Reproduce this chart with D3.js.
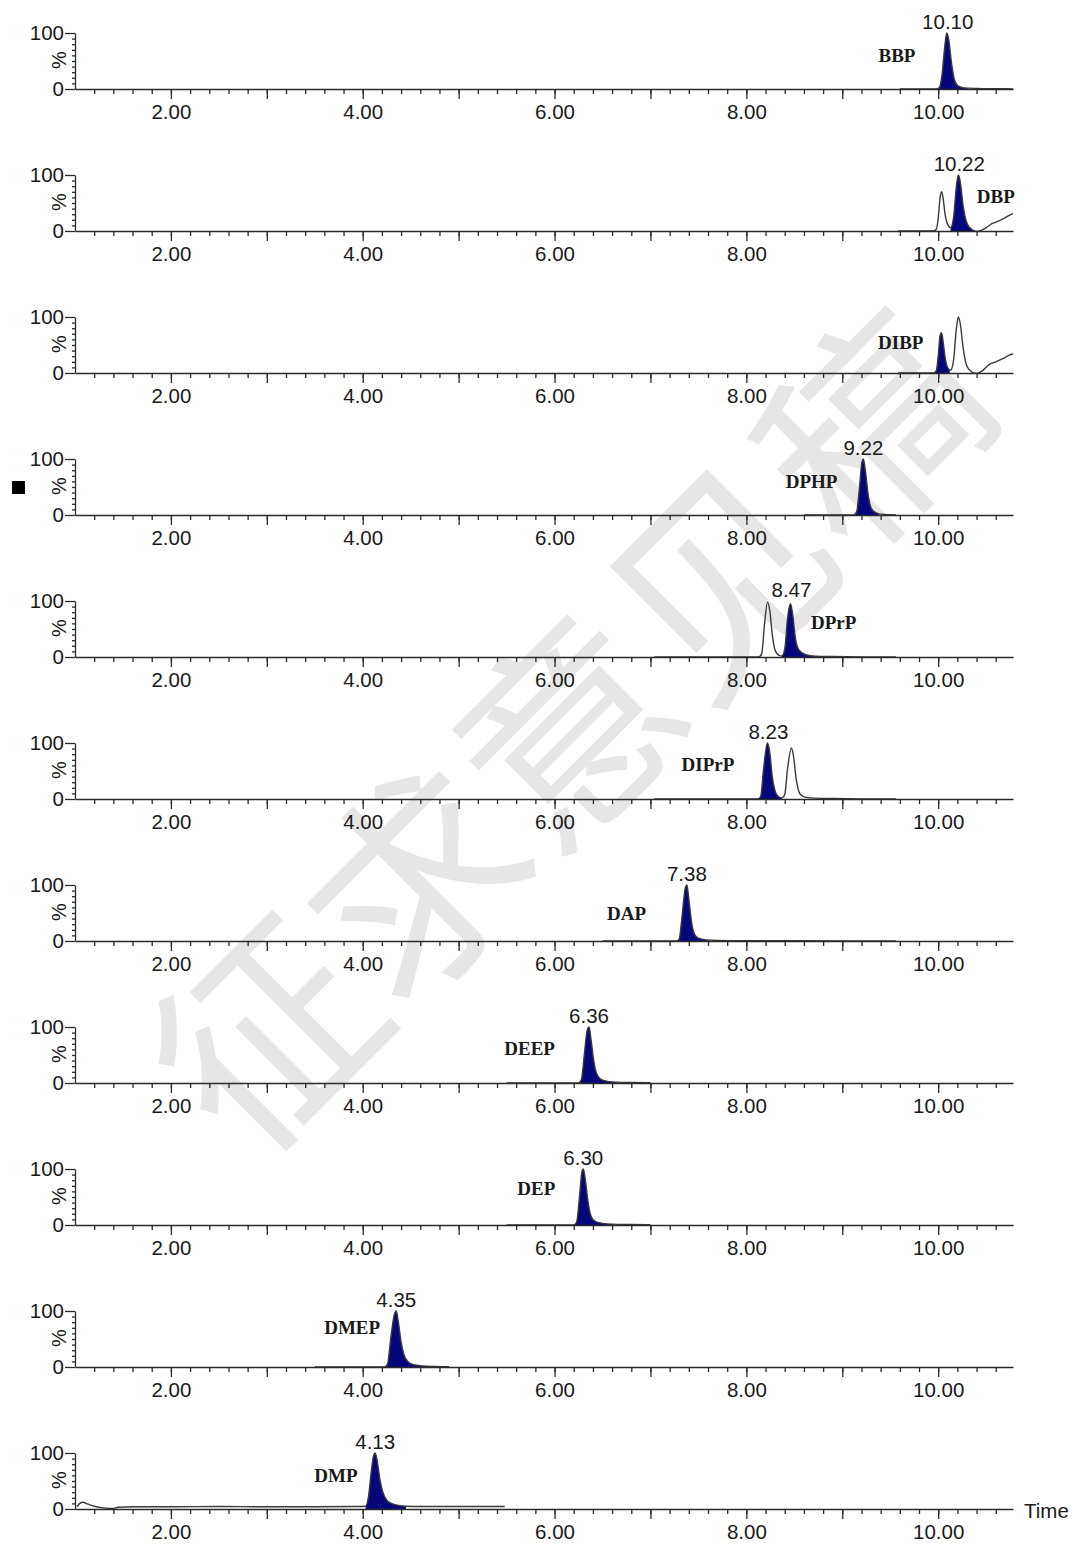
<!DOCTYPE html>
<html>
<head>
<meta charset="utf-8">
<script src="https://cdn.jsdelivr.net/npm/d3@7"></script>
<style>
  body { margin: 0; background: #fff; }
  svg { display: block; }
</style>
</head>
<body>
<script>
'use strict';

// compound name shown in each panel, top to bottom
const compounds = ["BBP", "DBP", "DIBP", "DPHP", "DPrP", "DIPrP", "DAP", "DEEP", "DEP", "DMEP", "DMP"];

// retention time printed above the filled peak ("" = none printed)
const peakLabels = ["10.10", "10.22", "", "9.22", "8.47", "8.23", "7.38", "6.36", "6.30", "4.35", "4.13"];

// where the label sits, [time, %]
const namePos = [[9.57, 59], [10.60, 62], [9.61, 54], [8.68, 59], [8.91, 61], [7.60, 62],
                 [6.75, 50], [5.74, 62], [5.81, 66], [3.89, 71], [3.72, 59]];

// time window of the filled (navy) peak
const fillRanges = [[10.00, 10.32], [10.13, 10.36], [9.96, 10.12], [9.14, 9.38], [8.37, 8.78], [8.13, 8.37],
                    [7.28, 7.62], [6.27, 6.66], [6.21, 6.62], [4.25, 4.76], [4.03, 4.45]];

// chromatogram traces [time (min), relative intensity %]
const traceBBP = [[9.60, 0], [9.98, 0], [10.01, 2], [10.04, 25], [10.07, 78], [10.09, 100], [10.11, 88],
  [10.14, 45], [10.17, 16], [10.21, 5], [10.27, 2], [10.40, 1], [10.60, 0.5], [10.78, 0.3]];
const traceDBP = [[9.58, 0], [9.95, 0], [9.98, 3], [10.00, 22], [10.02, 60], [10.035, 70], [10.05, 60],
  [10.07, 32], [10.10, 11], [10.13, 6], [10.16, 24], [10.19, 80], [10.21, 100], [10.23, 88], [10.26, 45],
  [10.30, 14], [10.35, 3], [10.40, -1], [10.45, 1], [10.50, 6], [10.56, 13], [10.62, 17], [10.68, 22],
  [10.74, 28], [10.78, 31]];
const traceDIBP = [[9.58, 0], [9.95, 0], [9.98, 4], [10.00, 30], [10.02, 67], [10.035, 72], [10.05, 58],
  [10.07, 30], [10.10, 9], [10.13, 5], [10.16, 22], [10.19, 80], [10.21, 100], [10.23, 88], [10.26, 45],
  [10.30, 12], [10.35, 2], [10.40, -1], [10.46, 4], [10.53, 15], [10.60, 20], [10.68, 26], [10.74, 32], [10.78, 34]];
const traceDPHP = [[8.60, 0], [9.12, 0], [9.15, 6], [9.18, 50], [9.205, 95], [9.22, 100], [9.24, 80],
  [9.27, 36], [9.30, 13], [9.34, 5], [9.40, 1.5], [9.50, 0.5], [9.56, 0.3]];
const traceDPrP = [[7.04, 0], [8.13, 0], [8.16, 6], [8.19, 60], [8.22, 98], [8.245, 82], [8.27, 40],
  [8.30, 12], [8.34, 3], [8.37, 2], [8.40, 14], [8.43, 70], [8.46, 95], [8.48, 80], [8.51, 35], [8.55, 12],
  [8.62, 4], [8.72, 1.5], [8.90, 0.8], [9.20, 0.3], [9.56, 0.2]];
const traceDIPrP = [[7.04, 0], [8.12, 0], [8.15, 5], [8.18, 55], [8.22, 100], [8.245, 82], [8.27, 40],
  [8.30, 14], [8.33, 5], [8.37, 2], [8.40, 8], [8.43, 55], [8.47, 91], [8.49, 78], [8.52, 35], [8.56, 9],
  [8.62, 3], [8.72, 1.5], [8.90, 0.8], [9.20, 0.3], [9.56, 0.2]];
const traceDAP = [[6.50, 0], [7.27, 0], [7.30, 4], [7.33, 45], [7.36, 92], [7.38, 100], [7.40, 75],
  [7.43, 32], [7.46, 12], [7.50, 5], [7.58, 2], [7.70, 1], [8.00, 0.5], [9.00, 0.3], [9.56, 0.2]];
const traceDEEP = [[5.50, 0], [6.25, 0], [6.28, 6], [6.31, 50], [6.34, 94], [6.36, 100], [6.38, 78],
  [6.41, 38], [6.44, 16], [6.48, 7], [6.55, 3], [6.65, 1.5], [6.80, 0.8], [7.00, 0.5]];
const traceDEP = [[5.50, 0], [6.20, 0], [6.23, 5], [6.26, 50], [6.285, 95], [6.30, 100], [6.32, 82],
  [6.35, 40], [6.38, 16], [6.42, 7], [6.50, 3], [6.60, 1.5], [6.80, 0.8], [7.00, 0.5]];
const traceDMEP = [[3.50, 0], [4.23, 0], [4.26, 6], [4.29, 48], [4.33, 94], [4.35, 100], [4.37, 82],
  [4.40, 45], [4.43, 22], [4.47, 10], [4.53, 4], [4.62, 2], [4.75, 1], [4.90, 0.5]];
const traceDMP = [[1.02, 4], [1.05, 10], [1.08, 12], [1.13, 9], [1.20, 5], [1.30, 2], [1.39, 1], [1.45, 3],
  [1.60, 4], [2.00, 4], [2.50, 4.5], [3.00, 4], [3.50, 4], [3.90, 4.5], [4.03, 5], [4.06, 22], [4.09, 68],
  [4.11, 93], [4.13, 100], [4.15, 87], [4.18, 52], [4.21, 30], [4.25, 16], [4.30, 10], [4.36, 7], [4.45, 5],
  [4.60, 4.5], [5.00, 4.5], [5.48, 4.5]];

const traces = [traceBBP, traceDBP, traceDIBP, traceDPHP, traceDPrP, traceDIPrP,
                traceDAP, traceDEEP, traceDEP, traceDMEP, traceDMP];

// axis ticks
const xLabelTicks = [2, 4, 6, 8, 10];
const xMidTicks = [3, 5, 7, 9];
const yLabelTicks = [0, 100];
const yMinorTicks = [10, 20, 30, 40, 50, 60, 70, 80, 90];

const W = 1075, H = 1544;
const firstBase = 89, panelStep = 142, panelH = 56;

const svg = d3.select('body').append('svg')
  .attr('width', W)
  .attr('height', H);

// watermark behind everything
svg.append('text')
  .attr('transform', 'translate(560,722)rotate(-45)')
  .attr('text-anchor', 'middle')
  .attr('dominant-baseline', 'central')
  .style('font-family', '"Noto Sans CJK SC", sans-serif')
  .style('font-size', '214px')
  .style('fill', '#e6e6e6')
  .text('征求意见稿');

const x = d3.scaleLinear()
  .domain([1, 10.78])
  .range([75, 1013]);

const sans = '"Liberation Sans", Arial, sans-serif';
const serif = '"Liberation Serif", "Times New Roman", serif';

compounds.forEach((name, i) => {
  let base = firstBase + i * panelStep;
  let y = d3.scaleLinear().domain([0, 100]).range([base, base - panelH]);
  let g = svg.append('g');

  // trace: filled part clipped to peak window
  let clipId = 'clip' + i;
  svg.append('clipPath').attr('id', clipId)
    .append('rect')
    .attr('x', x(fillRanges[i][0]))
    .attr('width', x(fillRanges[i][1]) - x(fillRanges[i][0]))
    .attr('y', base - panelH - 10)
    .attr('height', panelH + 20);

  let area = d3.area()
    .x(d => x(d[0]))
    .y0(y(0))
    .y1(d => y(d[1]))
    .curve(d3.curveMonotoneX);
  let line = d3.line()
    .x(d => x(d[0]))
    .y(d => y(d[1]))
    .curve(d3.curveMonotoneX);

  g.append('path')
    .datum(traces[i])
    .attr('clip-path', 'url(#' + clipId + ')')
    .attr('d', area)
    .attr('fill', '#06067c');

  g.append('path')
    .datum(traces[i])
    .attr('d', line)
    .attr('fill', 'none')
    .attr('stroke', '#3a3a3a')
    .attr('stroke-width', 1.4);

  // x axis: labelled, integer, and minor ticks
  g.append('g').attr('transform', 'translate(0,' + base + ')')
    .call(d3.axisBottom(x).tickValues(xLabelTicks).tickSize(10).tickSizeOuter(0)
      .tickPadding(5).tickFormat(d => d.toFixed(2)));
  g.append('g').attr('transform', 'translate(0,' + base + ')')
    .call(d3.axisBottom(x).tickValues(xMidTicks).tickSize(10).tickFormat(''))
    .call(s => s.select('.domain').remove());
  g.append('g').attr('transform', 'translate(0,' + base + ')')
    .call(d3.axisBottom(x).tickValues(d3.range(1.2, 10.78, 0.2)).tickSize(5).tickFormat(''))
    .call(s => s.select('.domain').remove());

  // y axis
  g.append('g').attr('transform', 'translate(75,0)')
    .call(d3.axisLeft(y).tickValues(yLabelTicks).tickSize(10).tickSizeOuter(0).tickPadding(1));
  g.append('g').attr('transform', 'translate(75,0)')
    .call(d3.axisLeft(y).tickValues(yMinorTicks).tickSize(3).tickFormat(''))
    .call(s => s.select('.domain').remove());

  g.selectAll('.domain, .tick line')
    .attr('stroke', '#2a2a2a')
    .attr('stroke-width', 1.3);
  g.selectAll('.tick text')
    .style('font-family', sans)
    .style('font-size', '20.5px')
    .attr('fill', '#1a1a1a');

  g.append('text')
    .attr('transform', 'translate(66,' + (base - 29) + ')rotate(-90)')
    .attr('text-anchor', 'middle')
    .style('font-family', sans)
    .style('font-size', '20px')
    .attr('fill', '#1a1a1a')
    .text('%');

  // labels
  if (peakLabels[i] !== '') {
    g.append('text')
      .attr('x', x(+peakLabels[i]))
      .attr('y', base - 68)
      .attr('text-anchor', 'middle')
      .attr('dominant-baseline', 'central')
      .style('font-family', sans)
      .style('font-size', '20.5px')
      .attr('fill', '#1a1a1a')
      .text(peakLabels[i]);
  }

  g.append('text')
    .attr('x', x(namePos[i][0]))
    .attr('y', y(namePos[i][1]))
    .attr('text-anchor', 'middle')
    .attr('dominant-baseline', 'central')
    .style('font-family', serif)
    .style('font-size', '19px')
    .style('font-weight', 'bold')
    .attr('fill', '#1a1a1a')
    .text(name);

  // little marker beside the DPHP panel
  if (name === 'DPHP') {
    svg.append('rect')
      .attr('x', 12)
      .attr('y', base - 34)
      .attr('width', 13)
      .attr('height', 13)
      .attr('fill', '#000');
  }

  if (i === compounds.length - 1) {
    g.append('text')
      .attr('x', 1024)
      .attr('y', base + 1)
      .attr('dominant-baseline', 'central')
      .style('font-family', sans)
      .style('font-size', '20.5px')
      .attr('fill', '#1a1a1a')
      .text('Time');
  }
});
</script>
</body>
</html>
